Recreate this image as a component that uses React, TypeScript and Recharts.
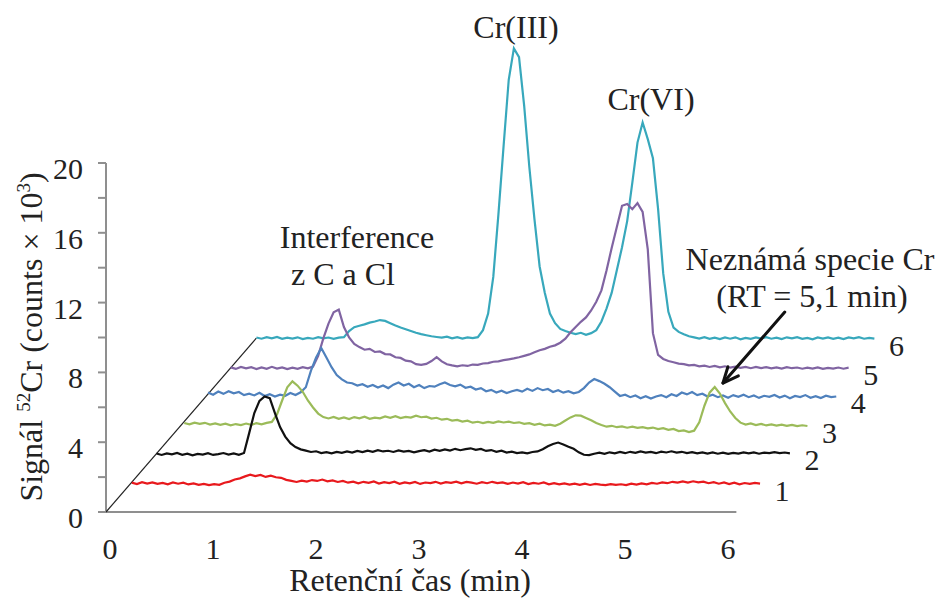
import React from 'react';
import { LineChart, Line, XAxis, YAxis, ReferenceLine, LabelList } from 'recharts';

// Sampling interval of the ICP-MS chromatograms (min)
const SAMPLE_STEP_MIN = 0.05;

// Injection labels drawn at the end of each trace
const INJECTIONS = ['1', '2', '3', '4', '5', '6'];

const COLORS = ['#e8191d', '#111111', '#9bbb59', '#4f81bd', '#8064a2', '#38a8bc'];

// Pseudo-3D stacking: each injection is moved along the depth axis
const DEPTH_SHIFT_MIN = [0.25, 0.49, 0.76, 0.99, 1.21, 1.46];
const DEPTH_LEVEL = [1.66, 3.32, 5.04, 6.8, 8.25, 9.97];

// 52Cr signal above baseline (counts × 10^3), one value per sample
const SIGNAL_1 = [
  0.02, -0.06, 0.05, -0.03, 0.04, -0.05, 0.01, -0.07, 0.03, -0.04,
  0.02, -0.08, -0.02, -0.1, -0.05, -0.12, -0.06, -0.1, 0.02, 0.08,
  0.2, 0.27, 0.38, 0.48, 0.4, 0.46, 0.35, 0.42, 0.33, 0.3,
  0.18, 0.12, 0.06, 0.14, 0.08, 0.17, 0.12, 0.2, 0.1, 0.15,
  0.06, 0.12, 0.02, 0.08, -0.02, 0.07, 0.01, 0.09, -0.03, 0.05,
  0.0, 0.08, -0.04, 0.04, -0.02, 0.06, -0.05, 0.03, 0.0, 0.07,
  -0.03, 0.05, 0.01, 0.08, -0.02, 0.06, 0.02, -0.04, 0.05, -0.01,
  0.07, 0.0, 0.04, -0.05, 0.03, -0.03, 0.05, -0.06, 0.01, -0.04,
  0.03, -0.07, -0.01, -0.08, -0.02, -0.09, -0.03, -0.1, -0.04, -0.11,
  -0.05, -0.09, -0.12, -0.06, -0.11, -0.07, -0.12, -0.04, -0.09, -0.02,
  -0.07, 0.01, -0.04, 0.04, -0.01, 0.07, 0.02, 0.09, 0.03, 0.1,
  0.04, 0.08, -0.01, 0.05, -0.04, 0.03, -0.06, 0.02, -0.07, 0.0,
  -0.05, 0.01, -0.03,
];

const SIGNAL_2 = [
  0.03, -0.05, 0.04, -0.02, 0.06, -0.04, 0.02, -0.07, 0.01, -0.03,
  0.05, -0.05, 0.0, 0.06, -0.03, 0.04, -0.04, 0.06, 1.2, 2.35,
  3.05, 3.3, 3.2, 2.35, 1.55, 1.0, 0.62, 0.4, 0.27, 0.2,
  0.12, 0.16, 0.06, 0.11, 0.04, 0.12, 0.07, 0.15, 0.09, 0.18,
  0.11, 0.2, 0.13, 0.22, 0.15, 0.19, 0.12, 0.21, 0.14, 0.18,
  0.1, 0.17, 0.22, 0.14, 0.25, 0.18, 0.27, 0.2, 0.3, 0.22,
  0.28, 0.33, 0.24, 0.29, 0.18, 0.23, 0.13, 0.19, 0.09, 0.14,
  0.06, 0.1, 0.04, 0.12, 0.15, 0.28, 0.45, 0.58, 0.66, 0.55,
  0.42, 0.3, 0.1, -0.04, -0.06, 0.02, 0.08, 0.01, 0.1, 0.04,
  0.12, 0.05, 0.13, 0.07, 0.15, 0.08, 0.12, 0.05, 0.14, 0.09,
  0.16, 0.08, 0.13, 0.06, 0.11, 0.04, 0.1, 0.03, 0.09, 0.02,
  0.08, 0.01, 0.07, 0.03, 0.1, 0.04, 0.09, 0.02, 0.08, 0.05,
  0.11, 0.06, 0.09, 0.04,
];

const SIGNAL_3 = [
  0.06, -0.02, 0.08, 0.01, 0.07, -0.03, 0.04, -0.05, 0.02, -0.07,
  0.0, -0.06, 0.03, -0.04, 0.05, -0.02, 0.07, 0.12, 0.55, 1.35,
  2.1, 2.45, 2.2, 1.85, 1.35, 0.95, 0.6, 0.4, 0.32, 0.41,
  0.3, 0.38, 0.29, 0.4, 0.33, 0.42, 0.3, 0.37, 0.33, 0.44,
  0.36, 0.45, 0.34, 0.41, 0.37, 0.48, 0.39, 0.42, 0.31, 0.36,
  0.25, 0.3, 0.2, 0.24, 0.14, 0.19, 0.08, 0.13, 0.05, 0.12,
  0.07, 0.15, 0.09, 0.14, 0.06, 0.1, 0.01, 0.05, -0.04, 0.02,
  -0.08, -0.03, -0.1, 0.02, 0.2, 0.38, 0.5, 0.48, 0.35, 0.22,
  0.06, -0.05, -0.15, -0.1, -0.18, -0.13, -0.21, -0.15, -0.22, -0.18,
  -0.25, -0.2, -0.29, -0.24, -0.33, -0.28, -0.4, -0.36, -0.46, -0.38,
  0.1, 1.05, 1.8, 2.12, 1.75, 1.2, 0.72, 0.35, 0.08, -0.03,
  0.04, -0.06, 0.01, -0.08, -0.02, -0.09, -0.03, -0.1, -0.05, -0.12,
  -0.07, -0.11,
];

const SIGNAL_4 = [
  0.05, -0.08, 0.1, -0.03, 0.12, 0.0, 0.08, -0.1, -0.02, -0.12,
  0.03, -0.15, -0.05, -0.18, -0.08, -0.14, 0.02, -0.1, 0.06, 0.35,
  1.3, 2.05, 2.6, 2.05, 1.5, 1.05, 0.8, 0.62, 0.58, 0.45,
  0.52, 0.38, 0.48, 0.33, 0.45, 0.3, 0.5, 0.62, 0.45, 0.55,
  0.35, 0.48, 0.3, 0.42, 0.38, 0.52, 0.62, 0.48, 0.4, 0.5,
  0.32, 0.38, 0.22, 0.3, 0.12, 0.2, 0.05, 0.15, 0.02, 0.12,
  0.2, 0.1, 0.26, 0.14, 0.3, 0.18, 0.25, 0.08, 0.18, 0.04,
  0.12, 0.0, 0.08, 0.3, 0.62, 0.82, 0.7, 0.55, 0.35, 0.1,
  -0.15, -0.08, -0.22, -0.12, -0.28, -0.16, -0.3, -0.18, -0.1, -0.22,
  -0.05, -0.15, 0.05, -0.06, 0.08, -0.1, -0.02, -0.18, -0.08, -0.22,
  -0.12, -0.25, -0.1, -0.2, -0.08, -0.22, -0.12, -0.26, -0.14, -0.2,
  -0.09, -0.24, -0.13, -0.28, -0.15, -0.21, -0.1, -0.25, -0.16, -0.27,
  -0.14, -0.22, -0.18,
];

const SIGNAL_5 = [
  0.04, -0.05, 0.06, -0.02, 0.05, -0.06, 0.03, -0.04, 0.07, -0.03,
  0.04, -0.06, 0.02, -0.05, 0.05, -0.02, 0.08, 0.7, 1.7, 2.55,
  3.2, 3.35, 2.35, 1.75, 1.38, 1.2, 1.05, 1.1, 0.92, 0.95,
  0.8, 0.78, 0.62, 0.58, 0.42, 0.38, 0.22, 0.18, 0.24, 0.4,
  0.62, 0.38, 0.22, 0.15, 0.1, 0.16, 0.12, 0.2, 0.18, 0.26,
  0.28, 0.36, 0.38, 0.45, 0.5, 0.55, 0.62, 0.7, 0.78, 0.9,
  1.02, 1.1, 1.22, 1.3, 1.45, 1.68, 2.05, 2.35, 2.65, 2.9,
  3.3, 3.8, 4.45, 5.6, 6.9, 8.1, 9.3, 9.4, 9.1, 9.45,
  8.95, 6.8, 2.0, 0.75, 0.52, 0.4, 0.33, 0.25, 0.22, 0.15,
  0.18, 0.1, 0.14, 0.06, 0.12, 0.04, 0.1, 0.02, 0.08, 0.01,
  0.07, -0.01, 0.06, 0.0, 0.05, -0.02, 0.04, -0.03, 0.05, -0.01,
  0.03, -0.04, 0.02, -0.03, 0.04, -0.05, 0.01, -0.03, 0.03, -0.04,
  0.02,
];

const SIGNAL_6 = [
  0.03, -0.04, 0.05, -0.02, 0.06, -0.05, 0.02, -0.03, 0.04, -0.06,
  0.01, -0.04, 0.05, -0.02, 0.03, -0.05, 0.02, 0.05, 0.4, 0.62,
  0.7, 0.78, 0.88, 0.95, 1.03, 0.98, 0.85, 0.72, 0.6, 0.5,
  0.4, 0.3, 0.22, 0.16, 0.1, 0.06, 0.02, 0.08, -0.02, 0.05,
  -0.03, 0.04, -0.01, 0.05, 0.45, 1.4, 3.5, 7.1, 11.0, 14.8,
  16.6, 16.1, 13.3, 9.8, 6.8, 4.1, 2.6, 1.4, 0.85, 0.52,
  0.4, 0.3, 0.22, 0.3, 0.18, 0.28, 0.45, 0.95, 1.7, 2.6,
  3.9, 5.2, 6.7, 8.9, 11.2, 12.35, 11.4, 10.3, 7.4, 3.7,
  1.5, 0.6, 0.35, 0.22, 0.1, 0.04, -0.03, 0.05, -0.05, 0.02,
  -0.06, 0.03, -0.04, 0.04, -0.07, 0.01, -0.05, 0.03, -0.03, 0.05,
  -0.04, 0.02, -0.06, 0.04, -0.02, 0.05, -0.05, 0.01, -0.07, 0.03,
  -0.03, 0.04, -0.05, 0.02, -0.06, 0.03, -0.02, 0.05, -0.04, 0.01,
  -0.03,
];

const SIGNALS = [SIGNAL_1, SIGNAL_2, SIGNAL_3, SIGNAL_4, SIGNAL_5, SIGNAL_6];

// Axis ticks
const X_TICKS = [0, 1, 2, 3, 4, 5, 6];
const Y_TICKS = [0, 2, 4, 6, 8, 10, 12, 14, 16, 18, 20];
const Y_LABEL_STEP = 4;

// Annotation arrow (retention time, signal) pointing at the unknown Cr species
const ARROW_TAIL = { x: 6.59, y: 11.46 };
const ARROW_HEAD = { x: 5.99, y: 7.39 };

const FONT = '"Liberation Serif", "Times New Roman", serif';
const TEXT_COLOR = '#222222';
const AXIS_COLOR = '#8f8f8f';

const traces = SIGNALS.map((values, k) =>
  values.map((v, i) => ({
    rt: +(i * SAMPLE_STEP_MIN + DEPTH_SHIFT_MIN[k]).toFixed(3),
    signal: +(v + DEPTH_LEVEL[k]).toFixed(3),
  }))
);

const XTick = (props: any) => {
  const { x, y, payload } = props;
  return (
    <text x={x + 4} y={y + 47} textAnchor="middle" fontSize={30} fontFamily={FONT} fill={TEXT_COLOR}>
      {payload.value}
    </text>
  );
};

const YTick = (props: any) => {
  const { x, y, payload } = props;
  if (payload.value % Y_LABEL_STEP !== 0) return <g />;
  return (
    <text x={x} y={y + 16} textAnchor="end" fontSize={30} fontFamily={FONT} fill={TEXT_COLOR}>
      {payload.value}
    </text>
  );
};

const ArrowShape = (p: any) => {
  const { x1, y1, x2, y2 } = p;
  const ang = Math.atan2(y2 - y1, x2 - x1);
  const len = 17;
  const spread = 0.42;
  const a1 = ang + Math.PI - spread;
  const a2 = ang + Math.PI + spread;
  return (
    <g stroke="#111" strokeWidth={3} fill="none" strokeLinecap="round" strokeLinejoin="round">
      <line x1={x1} y1={y1} x2={x2} y2={y2} />
      <polyline
        points={`${x2 + len * Math.cos(a1)},${y2 + len * Math.sin(a1)} ${x2},${y2} ${x2 + len * Math.cos(a2)},${y2 + len * Math.sin(a2)}`}
      />
    </g>
  );
};

const endLabel = (name: string, lastIndex: number) => (props: any) => {
  const { x, y, index } = props;
  if (index !== lastIndex) return <g />;
  return (
    <text x={x + 22} y={y + 17} textAnchor="middle" fontSize={30} fontFamily={FONT} fill={TEXT_COLOR}>
      {name}
    </text>
  );
};

export default function App() {
  const order = [5, 4, 3, 2, 1, 0];
  return (
    <div
      style={{
        position: 'absolute',
        left: 0,
        top: 0,
        width: 942,
        height: 599,
        background: '#ffffff',
        fontFamily: FONT,
      }}
    >
      <LineChart width={942} height={599} margin={{ top: 23.4, right: 12, bottom: 0, left: 0 }}>
        <XAxis
          type="number"
          dataKey="rt"
          domain={[0, 8]}
          ticks={X_TICKS}
          axisLine={false}
          tickLine={false}
          tickSize={0}
          tickMargin={0}
          height={87}
          tick={<XTick />}
          allowDataOverflow
        />
        <YAxis
          type="number"
          domain={[0, 28]}
          ticks={Y_TICKS}
          width={106}
          axisLine={false}
          tickLine={{ stroke: AXIS_COLOR, strokeWidth: 2 }}
          tickSize={8}
          tickMargin={15}
          tick={<YTick />}
          allowDataOverflow
        />
        <ReferenceLine
          segment={[{ x: 0, y: 0 }, { x: 0, y: 20 }]}
          stroke={AXIS_COLOR}
          strokeWidth={2}
        />
        <ReferenceLine
          segment={[{ x: 0, y: 0 }, { x: 6.12, y: 0 }]}
          stroke={AXIS_COLOR}
          strokeWidth={2}
        />
        <ReferenceLine
          segment={[{ x: 0, y: 0 }, { x: DEPTH_SHIFT_MIN[5], y: DEPTH_LEVEL[5] }]}
          stroke="#222"
          strokeWidth={1.2}
        />
        {order.map((k) => (
          <Line
            key={INJECTIONS[k]}
            data={traces[k]}
            dataKey="signal"
            type="linear"
            stroke={COLORS[k]}
            strokeWidth={2.2}
            dot={false}
            activeDot={false}
            isAnimationActive={false}
          >
            <LabelList dataKey="signal" content={endLabel(INJECTIONS[k], traces[k].length - 1)} />
          </Line>
        ))}
        <ReferenceLine segment={[ARROW_TAIL, ARROW_HEAD]} shape={ArrowShape} />
      </LineChart>
      <svg
        width={942}
        height={599}
        style={{ position: 'absolute', left: 0, top: 0, pointerEvents: 'none' }}
        fontFamily={FONT}
        fill={TEXT_COLOR}
        fontSize={32}
      >
        <text transform="translate(42,337) rotate(-90)" textAnchor="middle">
          Signál <tspan fontSize={19} dy={-12}>52</tspan>
          <tspan dy={12}>Cr (counts × 10</tspan>
          <tspan fontSize={19} dy={-12}>3</tspan>
          <tspan dy={12}>)</tspan>
        </text>
        <text x={410} y={591} textAnchor="middle">Retenční čas (min)</text>
        <text x={516} y={38} textAnchor="middle">Cr(III)</text>
        <text x={651} y={110} textAnchor="middle">Cr(VI)</text>
        <text x={357} y={248} textAnchor="middle">Interference</text>
        <text x={343} y={285} textAnchor="middle">z C a Cl</text>
        <text x={810} y={270} textAnchor="middle">Neznámá specie Cr</text>
        <text x={812} y={307} textAnchor="middle">(RT = 5,1 min)</text>
      </svg>
    </div>
  );
}
